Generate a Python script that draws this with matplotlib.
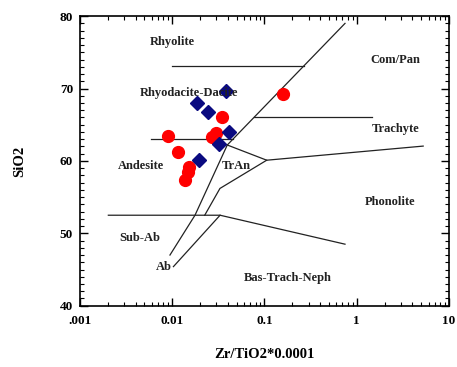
import matplotlib
matplotlib.use("Agg")
import matplotlib.pyplot as plt
from matplotlib.ticker import FixedLocator, LogLocator, MultipleLocator, NullFormatter

plt.rcParams['font.family'] = ['Liberation Serif', 'DejaVu Serif']
plt.rcParams['font.weight'] = 'bold'

# sample data
circle_x = [0.0344, 0.00906, 0.0298, 0.0268, 0.0116, 0.0153, 0.0150, 0.0139, 0.1575]
circle_y = [66.0, 63.5, 63.8, 63.25, 61.25, 59.15, 58.5, 57.4, 69.3]
diamond_x = [0.0383, 0.0187, 0.0246, 0.0415, 0.0321, 0.0195]
diamond_y = [69.7, 67.95, 66.7, 63.95, 62.4, 60.1]

# field boundaries (x, y vertices)
boundaries = [
    [(0.746, 79.0), (0.0395, 62.2), (0.01765, 52.5), (0.00945, 47.0)],
    [(0.01, 73.1), (0.265, 73.1)],
    [(0.077, 66.0), (1.45, 66.0)],
    [(0.0059, 63.0), (0.0456, 63.0)],
    [(0.0395, 62.2), (0.1057, 60.1), (5.25, 62.05)],
    [(0.1057, 60.1), (0.0329, 56.2), (0.0225, 52.5)],
    [(0.00203, 52.5), (0.033, 52.5), (0.746, 48.5)],
    [(0.033, 52.5), (0.0103, 45.4)],
]

labels = ["Rhyolite", "Rhyodacite-Dacite", "Com/Pan", "Trachyte", "Andesite",
          "TrAn", "Phonolite", "Sub-Ab", "Ab", "Bas-Trach-Neph"]
label_x = [0.0101, 0.0152, 2.6, 2.66, 0.00458, 0.05, 2.29, 0.00447, 0.00814, 0.1766]
label_y = [76.4, 69.4, 73.9, 64.35, 59.3, 59.3, 54.35, 49.4, 45.4, 43.8]

fig = plt.figure(figsize=(4.57, 3.67), dpi=100)
ax = fig.add_axes([0.175, 0.167, 0.8075, 0.789])

for line in boundaries:
    xs = [p[0] for p in line]
    ys = [p[1] for p in line]
    ax.plot(xs, ys, color='#222222', lw=0.9)

ax.plot(circle_x, circle_y, 'o', color='#ff0000', ms=8.5, mec='#ff0000', zorder=3)
ax.plot(diamond_x, diamond_y, 'D', color='#0a0a80', ms=7, mec='#0a0a80', zorder=3)

for t, x, y in zip(labels, label_x, label_y):
    ax.text(x, y, t, ha='center', va='center', fontsize=9, fontweight='bold', color='#222222')

ax.set_xscale('log')
ax.set_xlim(0.001, 10)
ax.set_ylim(40, 80)
ax.xaxis.set_major_locator(FixedLocator([0.001, 0.01, 0.1, 1, 10]))
ax.set_xticklabels(['.001', '0.01', '0.1', '1', '10'])
ax.xaxis.set_minor_locator(LogLocator(base=10, subs=range(2, 10)))
ax.xaxis.set_minor_formatter(NullFormatter())
ax.yaxis.set_major_locator(MultipleLocator(10))
ax.yaxis.set_minor_locator(MultipleLocator(1))

ax.tick_params(which='both', direction='in', top=True, right=True, labelsize=9.5)
ax.tick_params(axis='x', pad=7)
ax.tick_params(axis='y', pad=5)
ax.tick_params(which='major', length=6, width=1)
ax.tick_params(which='minor', length=3, width=0.8)
for s in ax.spines.values():
    s.set_linewidth(1.2)
for lab in ax.get_xticklabels() + ax.get_yticklabels():
    lab.set_fontweight('bold')

ax.set_xlabel('Zr/TiO2*0.0001', fontsize=10.5, fontweight='bold', labelpad=15)
ax.set_ylabel('SiO2', fontsize=10.5, fontweight='bold', labelpad=24)

fig.savefig('out.png', dpi=100)
